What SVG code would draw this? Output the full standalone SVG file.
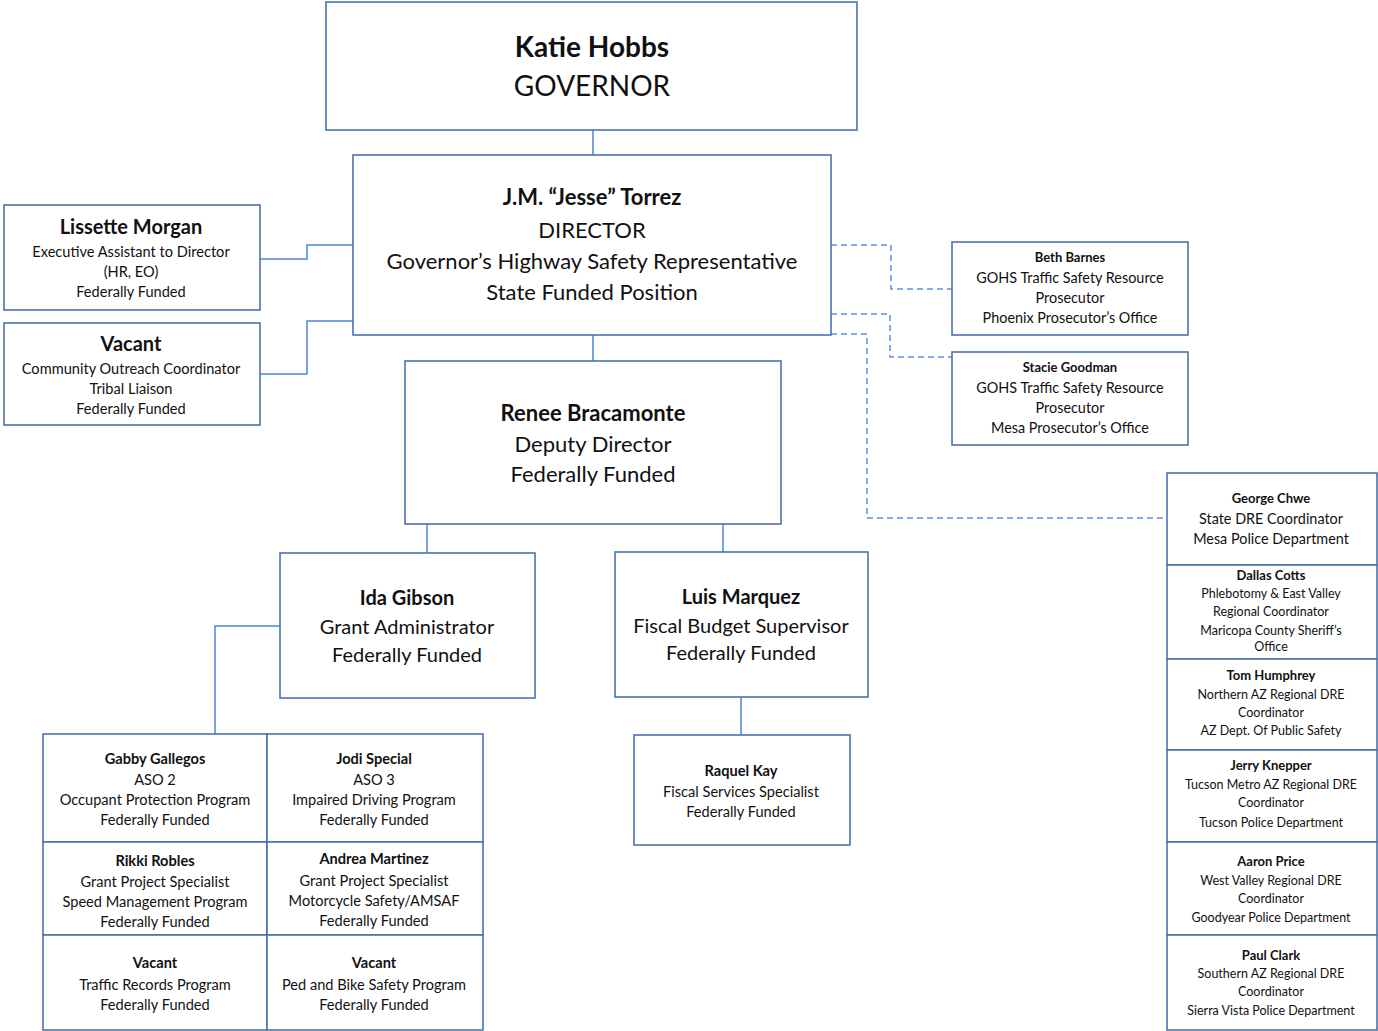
<svg xmlns="http://www.w3.org/2000/svg" width="1378" height="1031" viewBox="0 0 1378 1031">
<style>
.box{fill:#fff;stroke:#4a74ab;stroke-width:1.6}
.ln{fill:none;stroke:#4f86d6;stroke-width:1.5}
.ds{fill:none;stroke:#5b8fe6;stroke-width:1.5;stroke-dasharray:6 4}
text{font-family:Lato,"Noto Sans","Liberation Sans",sans-serif;fill:#111;text-anchor:middle}
.b{font-weight:bold}
.s28{font-size:28px}.s22{font-size:22px}.s20{font-size:20px}.s14{font-size:14.6px}.s13{font-size:13px}.s14b{font-size:14.4px}.s12{font-size:12.5px}
</style>
<g id="connectors">
<path class="ln" d="M593,130V155"/>
<path class="ln" d="M260,259H307V245H353"/>
<path class="ln" d="M260,374H307V321H353"/>
<path class="ln" d="M593,335V361"/>
<path class="ln" d="M427,524V553"/>
<path class="ln" d="M723,524V552"/>
<path class="ln" d="M280,626H215V734"/>
<path class="ln" d="M741,697V735"/>
<path class="ds" d="M831,245H891V289H952"/>
<path class="ds" d="M831,314H890V357H952"/>
<path class="ds" d="M831,334H867V518H1166"/>
</g>
<g id="governor"><rect class="box" x="326" y="2" width="531" height="128"/>
<text x="592" y="57" class="b s28">Katie Hobbs</text><text x="592" y="96" class="s28">GOVERNOR</text></g>
<g id="director"><rect class="box" x="353" y="155" width="478" height="180"/>
<text x="592" y="205" class="b s22">J.M. “Jesse” Torrez</text><text x="592" y="238" class="s22">DIRECTOR</text>
<text x="592" y="269" class="s22">Governor’s Highway Safety Representative</text><text x="592" y="300" class="s22">State Funded Position</text></g>
<g id="lissette"><rect class="box" x="4" y="205" width="256" height="105"/>
<text x="131" y="234" class="b s20">Lissette Morgan</text><text x="131" y="257" class="s14">Executive Assistant to Director</text>
<text x="131" y="277" class="s14">(HR, EO)</text><text x="131" y="297" class="s14">Federally Funded</text></g>
<g id="vacant-outreach"><rect class="box" x="4" y="323" width="256" height="102"/>
<text x="131" y="351" class="b s20">Vacant</text><text x="131" y="374" class="s14">Community Outreach Coordinator</text>
<text x="131" y="394" class="s14">Tribal Liaison</text><text x="131" y="414" class="s14">Federally Funded</text></g>
<g id="beth"><rect class="box" x="952" y="242" width="236" height="93"/>
<text x="1070" y="262" class="b s13">Beth Barnes</text><text x="1070" y="283" class="s14b">GOHS Traffic Safety Resource</text>
<text x="1070" y="303" class="s14b">Prosecutor</text><text x="1070" y="323" class="s14b">Phoenix Prosecutor’s Office</text></g>
<g id="stacie"><rect class="box" x="952" y="352" width="236" height="93"/>
<text x="1070" y="372" class="b s13">Stacie Goodman</text><text x="1070" y="393" class="s14b">GOHS Traffic Safety Resource</text>
<text x="1070" y="413" class="s14b">Prosecutor</text><text x="1070" y="433" class="s14b">Mesa Prosecutor’s Office</text></g>
<g id="deputy"><rect class="box" x="405" y="361" width="376" height="163"/>
<text x="593" y="421" class="b s22">Renee Bracamonte</text><text x="593" y="452" class="s22">Deputy Director</text><text x="593" y="482" class="s22">Federally Funded</text></g>
<g id="ida"><rect class="box" x="280" y="553" width="255" height="145"/>
<text x="407" y="605" class="b s20">Ida Gibson</text><text x="407" y="634" class="s20">Grant Administrator</text><text x="407" y="662" class="s20">Federally Funded</text></g>
<g id="luis"><rect class="box" x="615" y="552" width="253" height="145"/>
<text x="741" y="604" class="b s20">Luis Marquez</text><text x="741" y="633" class="s20">Fiscal Budget Supervisor</text><text x="741" y="660" class="s20">Federally Funded</text></g>
<g id="raquel"><rect class="box" x="634" y="735" width="216" height="110"/>
<text x="741" y="776" class="b s14">Raquel Kay</text><text x="741" y="797" class="s14">Fiscal Services Specialist</text><text x="741" y="817" class="s14">Federally Funded</text></g>
<g id="gabby"><rect class="box" x="43" y="734" width="224" height="108"/>
<text x="155" y="764" class="b s14">Gabby Gallegos</text><text x="155" y="785" class="s14">ASO 2</text><text x="155" y="805" class="s14">Occupant Protection Program</text><text x="155" y="825" class="s14">Federally Funded</text></g>
<g id="jodi"><rect class="box" x="267" y="734" width="216" height="108"/>
<text x="374" y="764" class="b s14">Jodi Special</text><text x="374" y="785" class="s14">ASO 3</text><text x="374" y="805" class="s14">Impaired Driving Program</text><text x="374" y="825" class="s14">Federally Funded</text></g>
<g id="rikki"><rect class="box" x="43" y="842" width="224" height="93"/>
<text x="155" y="866" class="b s14">Rikki Robles</text><text x="155" y="887" class="s14">Grant Project Specialist</text><text x="155" y="907" class="s14">Speed Management Program</text><text x="155" y="927" class="s14">Federally Funded</text></g>
<g id="andrea"><rect class="box" x="267" y="842" width="216" height="93"/>
<text x="374" y="864" class="b s14">Andrea Martinez</text><text x="374" y="886" class="s14">Grant Project Specialist</text><text x="374" y="906" class="s14">Motorcycle Safety/AMSAF</text><text x="374" y="926" class="s14">Federally Funded</text></g>
<g id="vacant-records"><rect class="box" x="43" y="935" width="224" height="95"/>
<text x="155" y="968" class="b s14">Vacant</text><text x="155" y="990" class="s14">Traffic Records Program</text><text x="155" y="1010" class="s14">Federally Funded</text></g>
<g id="vacant-ped"><rect class="box" x="267" y="935" width="216" height="95"/>
<text x="374" y="968" class="b s14">Vacant</text><text x="374" y="990" class="s14">Ped and Bike Safety Program</text><text x="374" y="1010" class="s14">Federally Funded</text></g>
<g id="george"><rect class="box" x="1167" y="473" width="210" height="92"/>
<text x="1271" y="503" class="b s13">George Chwe</text><text x="1271" y="524" class="s14b">State DRE Coordinator</text><text x="1271" y="544" class="s14b">Mesa Police Department</text></g>
<g id="dallas"><rect class="box" x="1167" y="565" width="210" height="94"/>
<text x="1271" y="580" class="b s13">Dallas Cotts</text><text x="1271" y="598" class="s12">Phlebotomy &amp; East Valley</text><text x="1271" y="616" class="s12">Regional Coordinator</text><text x="1271" y="635" class="s12">Maricopa County Sheriff’s</text><text x="1271" y="651" class="s12">Office</text></g>
<g id="tom"><rect class="box" x="1167" y="659" width="210" height="91"/>
<text x="1271" y="680" class="b s13">Tom Humphrey</text><text x="1271" y="699" class="s12">Northern AZ Regional DRE</text><text x="1271" y="717" class="s12">Coordinator</text><text x="1271" y="735" class="s12">AZ Dept. Of Public Safety</text></g>
<g id="jerry"><rect class="box" x="1167" y="750" width="210" height="92"/>
<text x="1271" y="770" class="b s13">Jerry Knepper</text><text x="1271" y="789" class="s12">Tucson Metro AZ Regional DRE</text><text x="1271" y="807" class="s12">Coordinator</text><text x="1271" y="827" class="s12">Tucson Police Department</text></g>
<g id="aaron"><rect class="box" x="1167" y="842" width="210" height="93"/>
<text x="1271" y="866" class="b s13">Aaron Price</text><text x="1271" y="885" class="s12">West Valley Regional DRE</text><text x="1271" y="903" class="s12">Coordinator</text><text x="1271" y="922" class="s12">Goodyear Police Department</text></g>
<g id="paul"><rect class="box" x="1167" y="935" width="210" height="95"/>
<text x="1271" y="960" class="b s13">Paul Clark</text><text x="1271" y="978" class="s12">Southern AZ Regional DRE</text><text x="1271" y="996" class="s12">Coordinator</text><text x="1271" y="1015" class="s12">Sierra Vista  Police Department</text></g>
</svg>
